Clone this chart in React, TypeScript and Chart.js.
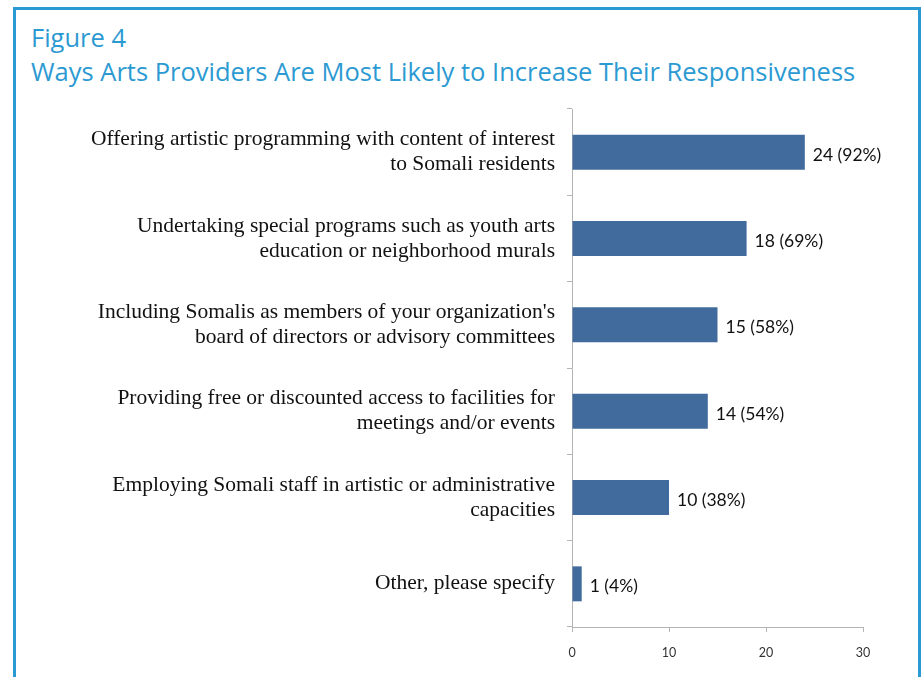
import React, { useEffect, useRef } from "react";
import { Chart, registerables } from "chart.js";

Chart.register(...registerables);

const categories: string[][] = [
  ["Offering artistic programming with content of interest", "to Somali residents"],
  ["Undertaking special programs such as youth arts", "education or neighborhood murals"],
  ["Including Somalis as members of your organization's", "board of directors or advisory committees"],
  ["Providing free or discounted access to facilities for", "meetings and/or events"],
  ["Employing Somali staff in artistic or administrative", "capacities"],
  ["Other, please specify"],
];
const counts: number[] = [24, 18, 15, 14, 10, 1];
const percents: number[] = [92, 69, 58, 54, 38, 4];
const xTicks: number[] = [0, 10, 20, 30];

const titleLines = ["Figure 4", "Ways Arts Providers Are Most Likely to Increase Their Responsiveness"];

const BLUE = "#2c9ad2";
const AXIS = "#b4b4b4";

const dataLabelPlugin = {
  id: "dataLabels",
  afterDatasetsDraw(chart: any) {
    const ctx = chart.ctx;
    const meta = chart.getDatasetMeta(0);
    ctx.save();
    ctx.font = "17.5px Lato";
    ctx.fillStyle = "#111";
    ctx.textAlign = "left";
    ctx.textBaseline = "middle";
    meta.data.forEach((el: any, i: number) => {
      ctx.fillText(`${counts[i]} (${percents[i]}%)`, el.x + 8, el.y + 3);
    });
    ctx.restore();
  },
};

export default function App() {
  const ref = useRef<HTMLCanvasElement | null>(null);
  useEffect(() => {
    if (!ref.current) return;
    const chart = new Chart(ref.current, {
      type: "bar",
      data: {
        labels: categories,
        datasets: [
          {
            data: counts,
            backgroundColor: "#416b9c",
            borderWidth: 0,
            categoryPercentage: 1,
            barPercentage: 0.405,
          },
        ],
      },
      options: {
        indexAxis: "y",
        responsive: false,
        animation: false,
        layout: { padding: { left: 12, right: 59, top: 109, bottom: 10 } },
        plugins: {
          legend: { display: false },
          tooltip: { enabled: false },
          title: { display: false },
        },
        scales: {
          x: {
            min: 0,
            max: 30,
            afterBuildTicks: (scale: any) => {
              scale.ticks = xTicks.map((v) => ({ value: v }));
            },
            afterFit: (scale: any) => {
              scale.height = 40;
            },
            grid: { drawOnChartArea: false, drawTicks: true, tickLength: 5, color: AXIS },
            border: { color: AXIS, width: 1 },
            ticks: {
              padding: 13,
              color: "#333",
              font: { family: "Lato", size: 12.5 },
            },
          },
          y: {
            afterFit: (scale: any) => {
              scale.width = 560;
            },
            grid: { drawOnChartArea: false, drawTicks: true, tickLength: 5, color: AXIS },
            border: { color: AXIS, width: 1 },
            ticks: {
              padding: 12,
              color: "#111",
              font: { family: "'Liberation Serif', 'Times New Roman', serif", size: 21.5, lineHeight: 1.163 },
            },
          },
        },
      },
      plugins: [dataLabelPlugin],
    });
    return () => chart.destroy();
  }, []);

  return (
    <div style={{ position: "absolute", left: 0, top: 0, width: 922, height: 677, overflow: "hidden", background: "#fff" }}>
      <div
        style={{
          position: "absolute",
          left: 13,
          top: 7,
          width: 908,
          height: 720,
          border: `3px solid ${BLUE}`,
          boxSizing: "border-box",
        }}
      />
      <div
        style={{
          position: "absolute",
          left: 31,
          top: 20,
          fontFamily: "'Open Sans', sans-serif",
          fontSize: 25.5,
          lineHeight: "34px",
          color: BLUE,
          whiteSpace: "nowrap",
        }}
      >
        {titleLines.map((t, i) => (
          <div key={i}>{t}</div>
        ))}
      </div>
      <canvas ref={ref} width={922} height={677} style={{ position: "absolute", left: 0, top: 0, width: 922, height: 677 }} />
    </div>
  );
}
